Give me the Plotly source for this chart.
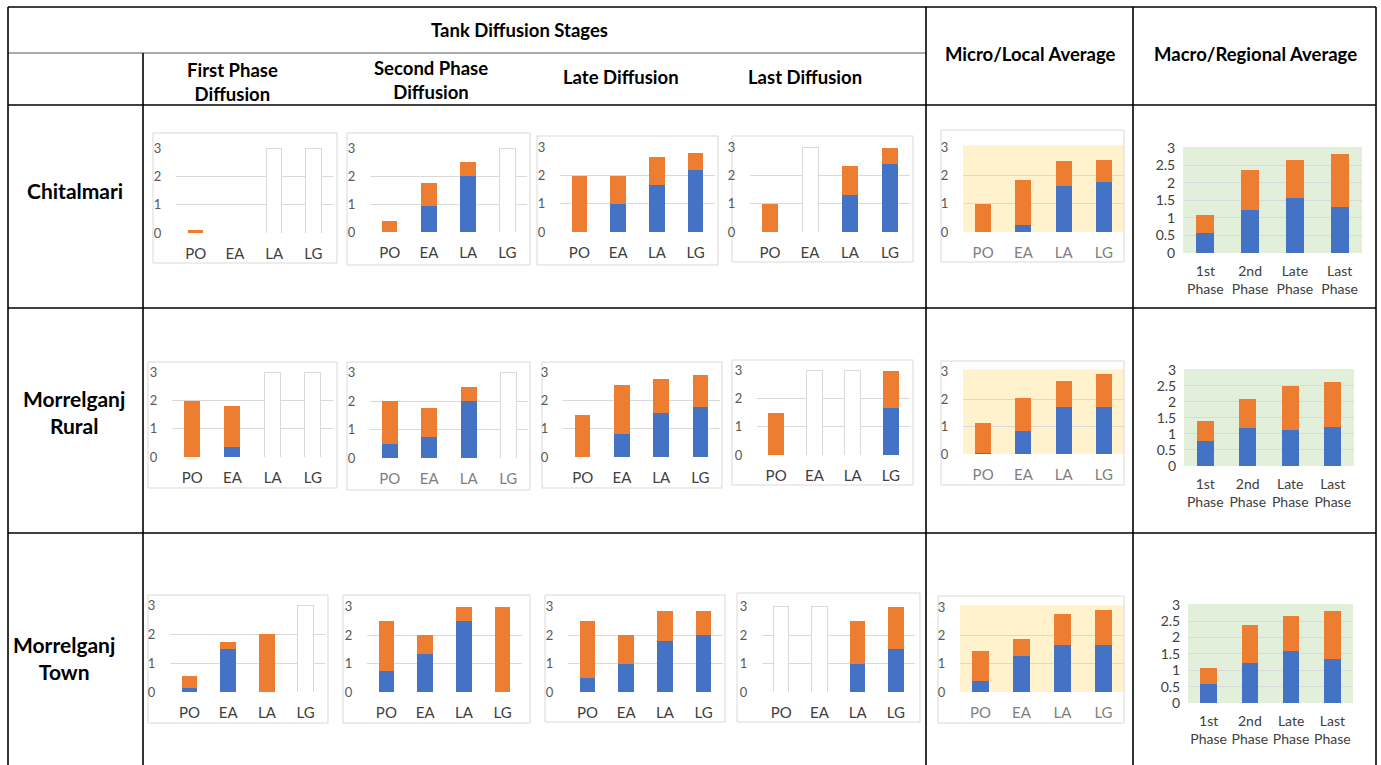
import plotly.graph_objects as go

W, H = 1381, 765
# vertical extent of the paper area inside the figure (pixels)
PAPER_TOP, PAPER_H = 8, 749

# ---------------- data ----------------
stage_labels = ["PO", "EA", "LA", "LG"]
phase_labels = ["1st<br>Phase", "2nd<br>Phase", "Late<br>Phase", "Last<br>Phase"]
stage_titles = ["First Phase<br>Diffusion", "Second Phase<br>Diffusion", "Late Diffusion", "Last Diffusion"]
row_names = ["Chitalmari", "Morrelganj<br>Rural", "Morrelganj<br>Town"]

# column order: first phase, second phase, late, last, micro/local avg, macro/regional avg
chitalmari_blue = [
    [0, 0, 0, 0],
    [0, 0.93, 2.0, 0],
    [0, 1.0, 1.67, 2.2],
    [0, 0, 1.33, 2.4],
    [0, 0.25, 1.62, 1.78],
    [0.57, 1.23, 1.57, 1.32],
]
chitalmari_orange = [
    [0.1, 0, 0, 0],
    [0.4, 0.82, 0.5, 0],
    [2.0, 1.0, 1.0, 0.6],
    [1.0, 0, 1.0, 0.6],
    [1.0, 1.6, 0.9, 0.79],
    [0.5, 1.14, 1.08, 1.51],
]
chitalmari_blank = [["LA", "LG"], ["LG"], [], ["EA"], [], []]

rural_blue = [
    [0, 0.35, 0, 0],
    [0.5, 0.75, 2.0, 0],
    [0, 0.8, 1.57, 1.77],
    [0, 0, 0, 1.67],
    [0.03, 0.85, 1.7, 1.7],
    [0.78, 1.18, 1.12, 1.22],
]
rural_orange = [
    [2.0, 1.47, 0, 0],
    [1.5, 1.0, 0.5, 0],
    [1.5, 1.75, 1.21, 1.13],
    [1.5, 0, 0, 1.33],
    [1.09, 1.18, 0.95, 1.22],
    [0.62, 0.9, 1.38, 1.4],
]
rural_blank = [["LA", "LG"], ["LG"], [], ["EA", "LA"], [], []]

town_blue = [
    [0.15, 1.5, 0, 0],
    [0.75, 1.33, 2.5, 0],
    [0.5, 1.0, 1.8, 2.0],
    [0, 0, 1.0, 1.5],
    [0.38, 1.27, 1.68, 1.67],
    [0.57, 1.22, 1.58, 1.33],
]
town_orange = [
    [0.42, 0.25, 2.0, 0],
    [1.75, 0.67, 0.5, 3.0],
    [2.0, 1.0, 1.05, 0.85],
    [0, 0, 1.5, 1.5],
    [1.07, 0.63, 1.1, 1.25],
    [0.5, 1.15, 1.07, 1.49],
]
town_blank = [["LG"], [], [], ["PO", "EA"], [], []]

blank_height = 3

rows_blue = [chitalmari_blue, rural_blue, town_blue]
rows_orange = [chitalmari_orange, rural_orange, town_orange]
rows_blank = [chitalmari_blank, rural_blank, town_blank]

# ---------------- layout geometry (pixels) ----------------
# plot areas: (left, right, top, bottom)
plot_boxes = [
    [(176, 333, 148, 233), (370, 527, 148, 232), (560, 715, 147, 232),
     (750, 910, 147, 232), (963, 1124, 147, 232), (1183, 1362, 147, 253)],
    [(172, 333, 372, 457), (370, 528, 372, 458), (563, 720, 372, 457),
     (757, 910, 370, 455), (963, 1124, 371, 454), (1184, 1354, 369, 466)],
    [(170, 325, 605, 692), (367, 522, 606, 692), (568, 723, 606, 692),
     (762, 915, 606, 692), (960, 1124, 607, 692), (1188, 1353, 604, 703)],
]
# chart-area frames: (left, right, top, bottom)
card_boxes = [
    [(153, 337, 133, 263), (347, 530, 133, 265), (537, 718, 136, 265),
     (732, 913, 136, 262), (941, 1124, 130, 262)],
    [(148, 337, 362, 488), (347, 530, 362, 490), (542, 722, 362, 488),
     (732, 913, 360, 485), (941, 1124, 361, 485)],
    [(148, 328, 595, 723), (343, 530, 595, 723), (545, 725, 595, 722),
     (737, 920, 593, 722), (938, 1124, 596, 723)],
]

BLUE = "#4472c4"
ORANGE = "#ed7d31"
GRID = "#d9d9d9"
FONT = "Lato"


def px_x(v):
    return v / W


def px_y(v):
    return 1 - (v - PAPER_TOP) / PAPER_H


def nz(vals):
    return [v if v else None for v in vals]


fig = go.Figure()
layout = {}
shapes = []
annotations = []

k = 0
for r in range(3):
    for c in range(6):
        k += 1
        suffix = "" if k == 1 else str(k)
        xa, ya = "x" + suffix, "y" + suffix
        is_macro = c == 5
        cats = phase_labels if is_macro else stage_labels
        blue = rows_blue[r][c]
        orange = rows_orange[r][c]
        blank = rows_blank[r][c]

        fig.add_trace(go.Bar(x=cats, y=nz(blue), marker=dict(color=BLUE, line=dict(width=0)),
                             xaxis=xa, yaxis=ya, showlegend=False))
        fig.add_trace(go.Bar(x=cats, y=nz(orange), marker=dict(color=ORANGE, line=dict(width=0)),
                             xaxis=xa, yaxis=ya, showlegend=False))
        if blank:
            fig.add_trace(go.Bar(x=cats, y=[blank_height if lab in blank else None for lab in cats],
                                 marker=dict(color="white", line=dict(color=GRID, width=1)),
                                 xaxis=xa, yaxis=ya, showlegend=False))

        x0, x1, yt, yb = plot_boxes[r][c]
        tick_col = "#7f7f7f" if (c == 4 or (r == 1 and c == 1)) else "#404040"
        layout["xaxis" + suffix] = dict(
            domain=[px_x(x0), px_x(x1)], anchor=ya, type="category",
            range=[-0.5, 3.5], showgrid=False, zeroline=False, showline=False,
            ticks="outside", ticklen=(5 if is_macro else 7), tickcolor="rgba(0,0,0,0)",
            tickfont=dict(family=FONT, size=(14 if is_macro else 15), color=tick_col),
            fixedrange=True,
        )
        layout["yaxis" + suffix] = dict(
            domain=[px_y(yb), px_y(yt)], anchor=xa,
            range=[0, 3.02], dtick=(0.5 if is_macro else 1), tick0=0,
            showgrid=True, gridcolor=GRID, gridwidth=1, zeroline=False, showline=False,
            ticks="outside", ticklen=(4 if is_macro else 11), tickcolor="rgba(0,0,0,0)",
            tickfont=dict(family=FONT, size=(14 if is_macro else 13),
                          color=("#404040" if is_macro else "#595959")),
            fixedrange=True,
        )

        # background tints of the average panels
        if c == 4:
            shapes.append(dict(type="rect", xref=xa + " domain", yref=ya + " domain",
                               x0=0, x1=1, y0=0, y1=1.02, fillcolor="#fff2cc",
                               line=dict(width=0), layer="below"))
        if c == 5:
            shapes.append(dict(type="rect", xref=xa + " domain", yref=ya + " domain",
                               x0=0, x1=1, y0=0, y1=1, fillcolor="#e2efda",
                               line=dict(width=0), layer="below"))

        # chart-area frame
        if c < 5:
            cx0, cx1, cyt, cyb = card_boxes[r][c]
            shapes.append(dict(type="rect", xref="paper", yref="paper",
                               x0=px_x(cx0), x1=px_x(cx1), y0=px_y(cyb), y1=px_y(cyt),
                               line=dict(color=GRID, width=1), fillcolor="rgba(0,0,0,0)",
                               layer="below"))

# ---------------- table rules ----------------
def hline(y, xa, xb, color="black", width=1.6):
    shapes.append(dict(type="line", xref="paper", yref="paper",
                       x0=px_x(xa), x1=px_x(xb), y0=px_y(y), y1=px_y(y),
                       line=dict(color=color, width=width)))


def vline(x, ya, yb, color="black", width=1.6):
    shapes.append(dict(type="line", xref="paper", yref="paper",
                       x0=px_x(x), x1=px_x(x), y0=px_y(ya), y1=px_y(yb),
                       line=dict(color=color, width=width)))


hline(7, 8, 1376)
hline(53, 8, 926, color="#595959", width=1.2)
hline(105, 8, 1376)
hline(308, 8, 1376)
hline(533, 8, 1376)
vline(8, 7, 765)
vline(143, 53, 765)
vline(926, 7, 765)
vline(1133, 7, 765)
vline(1376, 7, 765)

# ---------------- header and row labels ----------------
def label(text, x, y, size=18.5):
    annotations.append(dict(text="<b>" + text + "</b>", x=px_x(x), y=px_y(y),
                            xref="paper", yref="paper", showarrow=False,
                            xanchor="center", yanchor="middle",
                            font=dict(family=FONT, size=size, color="black")))


label("Tank Diffusion Stages", 519, 30)
title_x = [232, 431, 621, 805]
title_y = [82, 80, 77, 77]
for t, x, y in zip(stage_titles, title_x, title_y):
    label(t, x, y)
label("Micro/Local Average", 1030, 54)
label("Macro/Regional Average", 1255, 54)
row_y = [190, 412, 658]
row_x = [75, 74, 64]
for name, x, y in zip(row_names, row_x, row_y):
    label(name, x, y, size=21)

fig.update_layout(
    width=W, height=H, margin=dict(l=0, r=0, t=0, b=0),
    paper_bgcolor="white", plot_bgcolor="rgba(0,0,0,0)",
    barmode="stack", bargap=0.6, showlegend=False,
    shapes=shapes, annotations=annotations, **layout,
)

fig.write_html("out.html")
